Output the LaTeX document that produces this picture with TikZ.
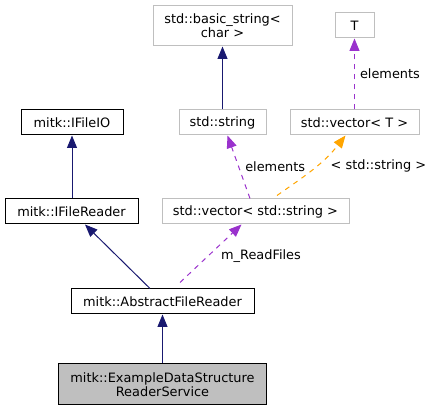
\documentclass[tikz,border=0pt]{standalone}
\usepackage{fontspec}
\setmainfont{DejaVu Sans}
\usetikzlibrary{arrows.meta}
\definecolor{edgeblue}{HTML}{191970}
\definecolor{edgepurple}{HTML}{9A32CD}
\definecolor{edgeorange}{HTML}{FFA500}
\definecolor{boxgray}{HTML}{BFBFBF}
\definecolor{fillgray}{HTML}{BFBFBF}
\begin{document}
\begin{tikzpicture}[x=1pt,y=-1pt,
  every node/.style={font=\fontsize{12.9}{14}\selectfont, inner sep=0pt, align=center},
  cls/.style={draw=black, line width=1pt, minimum height=25pt, fill=white},
  ext/.style={draw=boxgray, line width=1pt, minimum height=25pt, fill=white},
  tip/.style={-{Triangle[length=12.5pt,width=10pt]}},
  inh/.style={draw=edgeblue, line width=1pt, tip},
  use/.style={draw=edgepurple, line width=1pt, dash pattern=on 5pt off 5pt, tip},
  tpl/.style={draw=edgeorange, line width=1pt, dash pattern=on 5pt off 5pt, tip},
  lbl/.style={font=\fontsize{12.9}{14}\selectfont}
]
\useasboundingbox (0,0) rectangle (432,411);
\node[ext, minimum width=139pt, minimum height=40pt] (bs) at (222.5,26) {std::basic\_string<\\char >};
\node[ext, minimum width=39pt] (T) at (354.5,25.5) {T};
\node[cls, minimum width=102pt] (io) at (72,122.5) {mitk::IFileIO};
\node[ext, minimum width=87pt] (str) at (222.5,122.5) {std::string};
\node[ext, minimum width=129pt] (vT) at (354.5,122.5) {std::vector< T >};
\node[cls, minimum width=133pt] (fr) at (71.5,211.5) {mitk::IFileReader};
\node[ext, minimum width=187pt] (vs) at (255.5,211.5) {std::vector< std::string >};
\node[cls, minimum width=183pt] (afr) at (162.5,301.5) {mitk::AbstractFileReader};
\node[cls, fill=fillgray, minimum width=208pt, minimum height=41pt] (ex) at (162.5,384.5) {mitk::ExampleDataStructure\\ReaderService};

\draw[inh] (str.north) -- (bs.south);
\draw[use] (vT.north) -- (T.south) node[lbl, pos=0.5, right=5pt] {elements};
\draw[inh] (fr.north -| io.south) -- (io.south);
\draw[use] ([xshift=-5.5pt]vs.north) -- ([xshift=5pt]str.south) node[lbl, pos=0.5, right=6pt] {elements};
\draw[tpl] ([xshift=21.5pt,yshift=3pt]vs.north) to[out=35, in=232] ([xshift=-9pt]vT.south);
\node[lbl] (tl) at (378.5,166) {< std::string >};
\draw[inh] ([xshift=-12.5pt]afr.north) -- ([xshift=13.5pt]fr.south);
\draw[use] ([xshift=17.5pt,yshift=6pt]afr.north) -- ([xshift=-14pt]vs.south);
\node[lbl] (rf) at (261,256) {m\_ReadFiles};
\draw[inh] (ex.north) -- (afr.south);
\end{tikzpicture}
\end{document}
